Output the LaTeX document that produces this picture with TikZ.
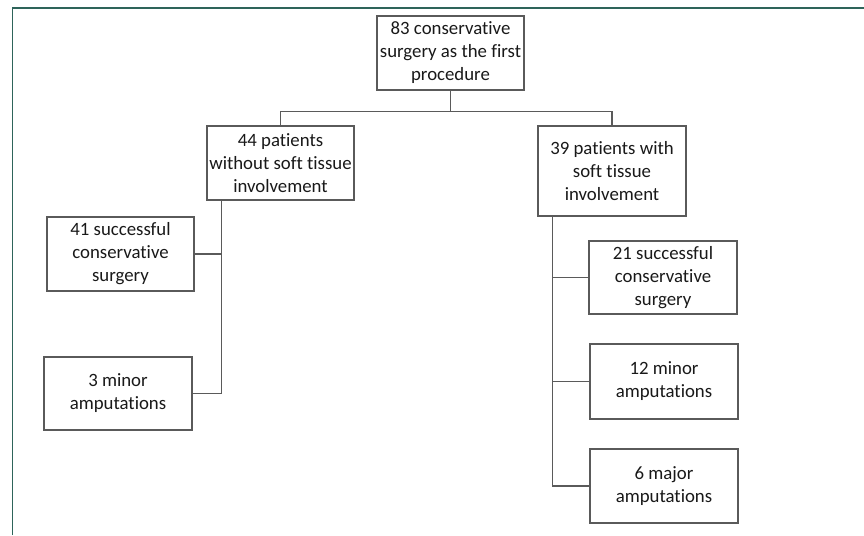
\documentclass[tikz,border=0pt]{standalone}
\usepackage{fontspec}
\setmainfont{Carlito}[Ligatures=NoCommon]
\usetikzlibrary{calc}
\definecolor{frame}{RGB}{46,100,90}
\definecolor{boxline}{RGB}{90,90,90}
\definecolor{txt}{RGB}{25,25,25}
\begin{document}
\begin{tikzpicture}[x=1pt,y=-1pt,
  box/.style={draw=boxline,line width=1.2pt,fill=white,align=center,inner sep=0pt,
    text=txt,font=\fontsize{18.8}{23}\selectfont,minimum width=147pt,minimum height=74pt},
  link/.style={draw=boxline,line width=1.2pt}]
\useasboundingbox (0,0) rectangle (864,535);
\draw[frame,line width=1.3pt] (12.5,535) -- (12.5,8) -- (864,8);
\node[box] (top) at (450.5,53) {83 conservative\\surgery as the first\\procedure};
\node[box] (n44) at (280.5,163) {44 patients\\without soft tissue\\involvement};
\node[box,minimum width=148pt,minimum height=90pt] (n39) at (612,171) {39 patients with\\soft tissue\\involvement};
\node[box] (n41) at (120.5,254) {41 successful\\conservative\\surgery};
\node[box,minimum width=148pt,minimum height=73pt] (n3) at (118,393.5) {3 minor\\amputations};
\node[box,minimum width=148pt,minimum height=73pt] (n21) at (663,277.5) {21 successful\\conservative\\surgery};
\node[box,minimum width=148pt,minimum height=75pt] (n12) at (664,381.5) {12 minor\\amputations};
\node[box,minimum width=148pt] (n6) at (664,486) {6 major\\amputations};
\coordinate (j) at ($(top.south)+(0,21)$);
\draw[link] (top.south) -- (j);
\draw[link] (j) -| (n44.north);
\draw[link] (j) -| (n39.north);
\coordinate (lb) at ($(n44.south west)+(15,0)$);
\draw[link] (lb) |- (n41.east);
\draw[link] (lb) |- (n3.east);
\coordinate (rb) at ($(n39.south west)+(15,0)$);
\draw[link] (rb) |- (n21.west);
\draw[link] (rb) |- (n12.west);
\draw[link] (rb) |- (n6.west);
\end{tikzpicture}
\end{document}
